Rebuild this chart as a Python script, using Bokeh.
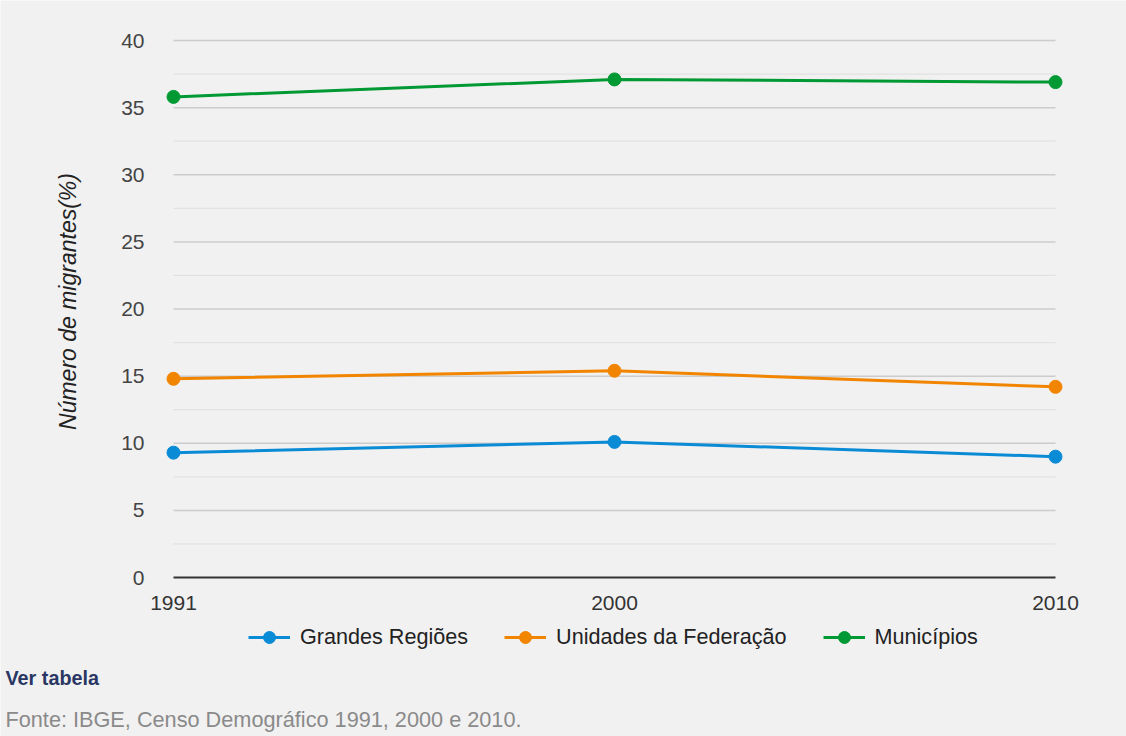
import math
from bokeh.plotting import figure
from bokeh.models import Range1d, Legend, LegendItem, Label, FixedTicker
from bokeh.embed import file_html
from bokeh.resources import INLINE

# ---- data ----
years = ["1991", "2000", "2010"]
grandes_regioes = [9.3, 10.1, 9.0]
unidades_federacao = [14.8, 15.4, 14.2]
municipios = [35.8, 37.1, 36.9]
series_names = ["Grandes Regiões", "Unidades da Federação", "Municípios"]
series_colors = ["#0a8bd6", "#f28500", "#009933"]
y_major = [0, 5, 10, 15, 20, 25, 30, 35, 40]
y_minor = [2.5, 7.5, 12.5, 17.5, 22.5, 27.5, 32.5, 37.5]
y_title = "Número de migrantes(%)"
link_text = "Ver tabela"
source_text = "Fonte: IBGE, Censo Demográfico 1991, 2000 e 2010."

FONT = "Liberation Sans"
BG = "#f1f1f1"
W, H = 1126, 736

# plotting area geometry (pixels) : first/last category and 0/40 positions
PX_LEFT, PX_RIGHT, PX_TOP, PX_BOTTOM = 173, 1055, 40, 577

xs = list(range(len(years)))
ux = (PX_RIGHT - PX_LEFT) / (xs[-1] - xs[0])
uy = (PX_BOTTOM - PX_TOP) / (y_major[-1] - y_major[0])
x_range = Range1d(xs[0] - PX_LEFT / ux, xs[-1] + (W - PX_RIGHT) / ux)
y_range = Range1d(y_major[0] - (H - PX_BOTTOM) / uy, y_major[-1] + PX_TOP / uy)

p = figure(width=W, height=H, output_backend="svg", toolbar_location=None,
           x_range=x_range, y_range=y_range,
           min_border=0, min_border_left=0, min_border_right=0,
           min_border_top=0, min_border_bottom=0)
p.background_fill_color = BG
p.border_fill_color = BG
p.outline_line_color = None
p.xgrid.visible = False
p.ygrid.visible = False

# grid lines (minor then major), spanning the category extent
p.segment(x0=[xs[0]] * len(y_minor), x1=[xs[-1]] * len(y_minor), y0=y_minor, y1=y_minor,
          line_color="#e2e2e2", line_width=1.2)
p.segment(x0=[xs[0]] * (len(y_major) - 1), x1=[xs[-1]] * (len(y_major) - 1),
          y0=y_major[1:], y1=y_major[1:], line_color="#cccccc", line_width=1.5)
p.segment(x0=[xs[0]], x1=[xs[-1]], y0=[y_major[0]], y1=[y_major[0]],
          line_color="#333333", line_width=2)

items = []
for name, vals, col in zip(series_names, [grandes_regioes, unidades_federacao, municipios], series_colors):
    l = p.line(xs, vals, line_color=col, line_width=3)
    s = p.scatter(xs, vals, size=13, fill_color=col, line_color=col)
    items.append(LegendItem(label=name, renderers=[l, s]))

# axes, pinned to the data origin
for ax in (p.xaxis[0], p.yaxis[0]):
    ax.axis_line_color = None
    ax.major_tick_line_color = None
    ax.minor_tick_line_color = None
    ax.major_label_text_font = FONT
    ax.major_label_text_font_size = "21px"

p.yaxis.fixed_location = xs[0]
p.yaxis.ticker = FixedTicker(ticks=y_major)
p.yaxis.major_label_text_color = "#444444"
p.yaxis.major_label_standoff = 23

p.xaxis.fixed_location = y_major[0]
p.xaxis.ticker = FixedTicker(ticks=xs)
p.xaxis.major_label_overrides = {i: y for i, y in zip(xs, years)}
p.xaxis.major_label_text_color = "#333333"
p.xaxis.major_label_standoff = 12

# y axis title
p.add_layout(Label(x=67, y=H - 301, x_units="screen", y_units="screen", text=y_title,
                   angle=math.pi / 2, text_align="center", text_baseline="middle",
                   text_font=FONT, text_font_size="23px", text_font_style="italic",
                   text_color="#222222"))

legend = Legend(items=items, orientation="horizontal", location=(238, H - 662),
                glyph_width=42, glyph_height=30, label_standoff=10, spacing=36,
                margin=0, padding=10,
                label_text_font=FONT, label_text_font_size="21.6px", label_text_color="#222222",
                background_fill_alpha=0, border_line_alpha=0)
p.add_layout(legend)

p.add_layout(Label(x=5, y=H - 677, x_units="screen", y_units="screen", text=link_text,
                   text_font=FONT, text_font_size="19.8px", text_font_style="bold",
                   text_color="#2a3764", text_baseline="middle"))
p.add_layout(Label(x=5, y=H - 719, x_units="screen", y_units="screen", text=source_text,
                   text_font=FONT, text_font_size="21.7px", text_color="#8a8a8a",
                   text_baseline="middle"))

html = file_html(p, INLINE)
open("out.html", "w").write(html)
